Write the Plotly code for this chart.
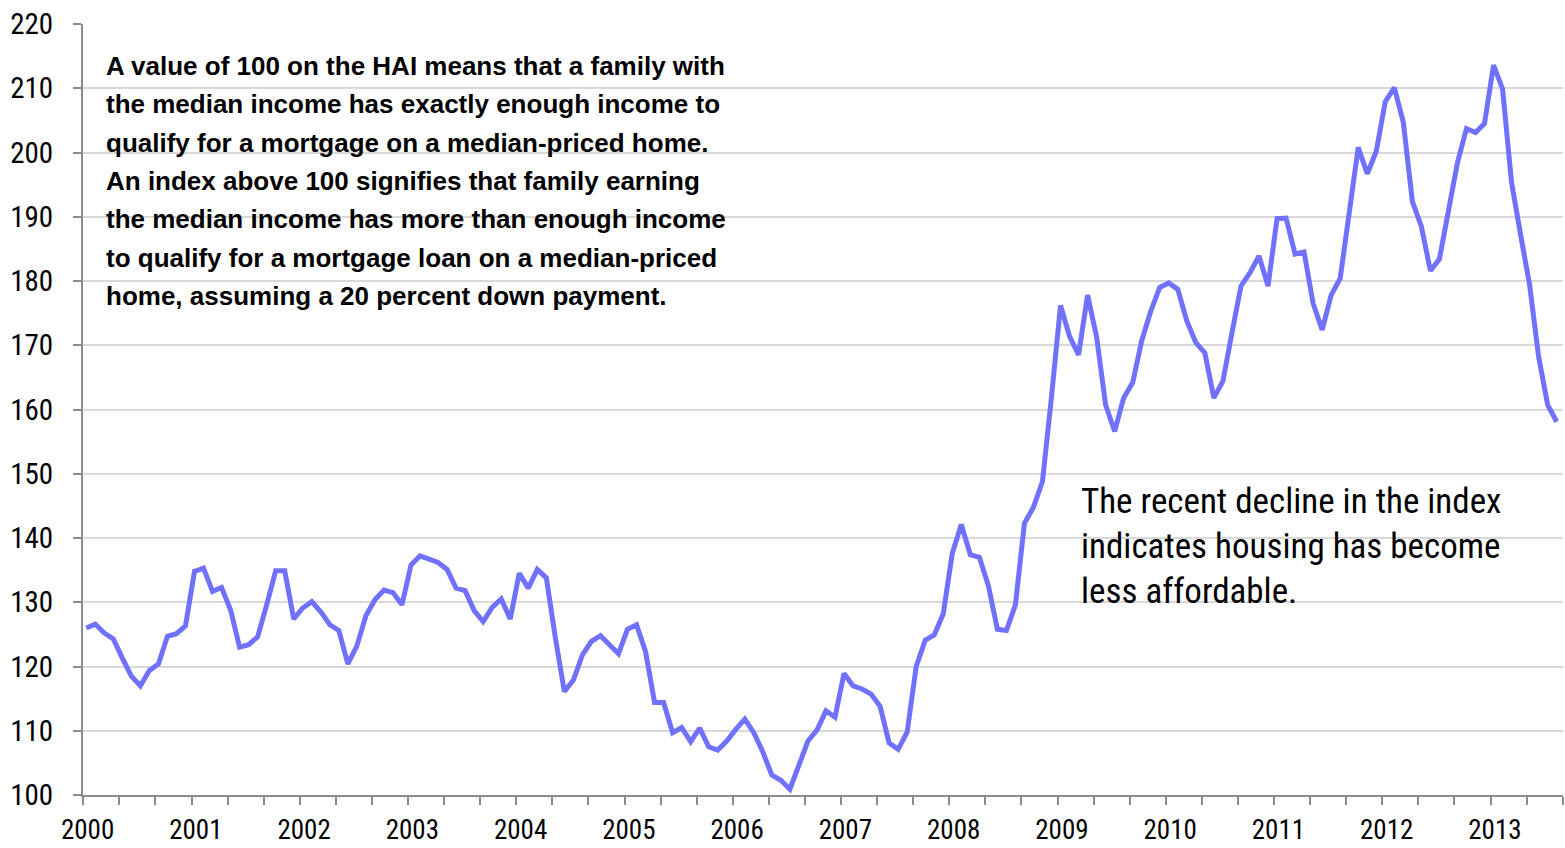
import plotly.graph_objects as go

# Housing Affordability Index (HAI), monthly Jan 2000 - Aug 2013
hai_2000 = [126.0, 126.6, 125.2, 124.3, 121.3, 118.5, 117.0, 119.4, 120.4, 124.7, 125.1, 126.3]
hai_2001 = [134.8, 135.3, 131.7, 132.3, 128.8, 123.0, 123.4, 124.6, 129.6, 134.9, 134.9, 127.4]
hai_2002 = [129.1, 130.1, 128.5, 126.5, 125.6, 120.4, 123.2, 127.9, 130.4, 131.9, 131.5, 129.6]
hai_2003 = [135.8, 137.2, 136.7, 136.2, 135.1, 132.2, 131.8, 128.7, 127.0, 129.2, 130.5, 127.4]
hai_2004 = [134.5, 132.2, 135.1, 133.8, 124.5, 116.1, 117.9, 121.8, 123.9, 124.8, 123.4, 122.0]
hai_2005 = [125.8, 126.5, 122.3, 114.4, 114.4, 109.7, 110.5, 108.3, 110.4, 107.5, 107.0, 108.4]
hai_2006 = [110.2, 111.8, 109.7, 106.7, 103.1, 102.3, 100.9, 104.6, 108.4, 110.1, 113.1, 112.1]
hai_2007 = [118.9, 117.0, 116.5, 115.7, 113.8, 108.1, 107.1, 109.8, 120.0, 124.1, 124.9, 128.2]
hai_2008 = [137.6, 142.1, 137.4, 137.0, 132.6, 125.8, 125.6, 129.6, 142.3, 144.8, 148.8, 162.0]
hai_2009 = [176.2, 171.4, 168.5, 177.8, 171.3, 160.7, 156.6, 161.8, 164.2, 170.7, 175.3, 179.0]
hai_2010 = [179.7, 178.7, 173.8, 170.4, 168.8, 161.8, 164.4, 171.9, 179.2, 181.3, 183.9, 179.2]
hai_2011 = [189.7, 189.8, 184.2, 184.5, 176.5, 172.4, 177.8, 180.4, 190.5, 200.8, 196.7, 200.2]
hai_2012 = [207.9, 210.1, 204.7, 192.4, 188.5, 181.6, 183.4, 190.9, 198.4, 203.7, 203.1, 204.5]
hai_2013 = [213.6, 209.9, 195.3, 187.2, 179.4, 168.2, 160.7, 158.1]

years = list(range(2000, 2014))
year_labels = [str(y) for y in years]

hai = (hai_2000 + hai_2001 + hai_2002 + hai_2003 + hai_2004 + hai_2005 + hai_2006
       + hai_2007 + hai_2008 + hai_2009 + hai_2010 + hai_2011 + hai_2012 + hai_2013)
month_index = list(range(len(hai)))

NARROW = "Roboto Condensed, Liberation Sans, sans-serif"
BOLDF = "Liberation Sans, Arial, sans-serif"

fig = go.Figure()
fig.add_trace(go.Scatter(
    x=month_index, y=hai, mode="lines",
    line=dict(color="#7171FF", width=5),
    hoverinfo="skip", showlegend=False,
))

# tick marks every 4 months, year labels every 12 months
offset = -0.33
minor_vals = [offset + 4 * k for k in range(42)]
label_vals = [12 * k + 0.15 for k in range(len(years))]

W, H = 1565, 848
L, R, T, B = 83, 2, 24, 53
PW, PH = W - L - R, H - T - B

def px(xp):
    return (xp - L) / PW

def py(yp):
    return (H - B - yp) / PH

fig.update_layout(
    width=W, height=H,
    margin=dict(l=L, r=R, t=T, b=B, autoexpand=False),
    paper_bgcolor="white", plot_bgcolor="white",
    font=dict(family=NARROW, color="black"),
    xaxis=dict(
        range=[-0.36, 163.7],
        tickmode="array", tickvals=label_vals, ticktext=year_labels,
        ticks="", ticklabelstandoff=10,
        minor=dict(tickmode="array", tickvals=minor_vals, ticks="outside",
                   ticklen=8, tickwidth=2, tickcolor="#8c8c8c", showgrid=False),
        showline=True, linecolor="#8c8c8c", linewidth=2,
        showgrid=False, zeroline=False,
        tickfont=dict(family=NARROW, size=27, color="black"),
    ),
    yaxis=dict(
        range=[100, 220], tickmode="linear", tick0=100, dtick=10,
        ticks="outside", ticklen=8, tickwidth=2, tickcolor="#8c8c8c",
        showline=True, linecolor="#8c8c8c", linewidth=2,
        showgrid=True, gridcolor="#d9d9d9", gridwidth=2,
        zeroline=False,
        tickfont=dict(family=NARROW, size=29, color="black"),
        ticklabelstandoff=14,
    ),
)

note_lines = [
    "A value of 100 on the HAI means that a family with",
    "the median income has exactly enough income to",
    "qualify for a mortgage on a median-priced home.",
    "An index above 100 signifies that family earning",
    "the median income has more than enough income",
    "to qualify for a mortgage loan on a median-priced",
    "home, assuming a 20 percent down payment.",
]
note_y = [66, 104, 143, 181, 219, 258, 296]
for txt, yp in zip(note_lines, note_y):
    fig.add_annotation(
        text="<b>" + txt + "</b>", xref="paper", yref="paper",
        x=px(104), y=py(yp), xanchor="left", yanchor="middle",
        showarrow=False, font=dict(family=BOLDF, size=26, color="black"),
    )

note2_lines = [
    "The recent decline in the index",
    "indicates housing has become",
    "less affordable.",
]
note2_y = [501, 546, 591]
for txt, yp in zip(note2_lines, note2_y):
    fig.add_annotation(
        text=txt, xref="paper", yref="paper",
        x=px(1079), y=py(yp), xanchor="left", yanchor="middle",
        showarrow=False, font=dict(family=NARROW, size=35, color="black"),
    )

fig.write_html(
    "out.html",
    config={"displayModeBar": False},
    post_script="document.body.style.margin='0';document.body.style.padding='0';",
)
